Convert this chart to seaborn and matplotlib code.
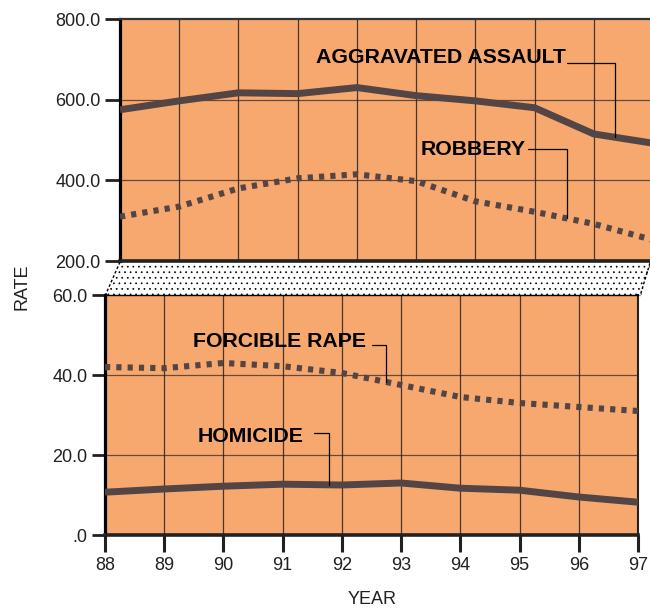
import matplotlib
matplotlib.use("Agg")
import matplotlib.pyplot as plt
import seaborn as sns
import numpy as np
import pandas as pd
from matplotlib.patches import Polygon

# Data (rate per 100,000)
years = [88, 89, 90, 91, 92, 93, 94, 95, 96, 97]
assault = [575, 597, 617, 615, 630, 610, 597, 580, 515, 492]
robbery = [310, 335, 380, 405, 415, 398, 348, 322, 292, 252]
rape = [42.0, 41.7, 43.0, 42.2, 40.5, 37.5, 34.5, 33.0, 32.0, 31.0]
homicide = [10.7, 11.5, 12.2, 12.7, 12.5, 13.0, 11.7, 11.2, 9.5, 8.2]

top_ticks = [200, 400, 600, 800]
top_labels = ["200.0", "400.0", "600.0", "800.0"]
bot_ticks = [0, 20, 40, 60]
bot_labels = [".0", "20.0", "40.0", "60.0"]

sns.set_style("white")
plt.rcParams["font.family"] = ["Liberation Sans", "DejaVu Sans"]
plt.rcParams["hatch.linewidth"] = 0.5

BG = "#F7A86F"
LINE = "#534545"
GRID = "#2b2020"
TXT = "#231f20"

W, H = 650, 611
fig = plt.figure(figsize=(6.5, 6.11), dpi=100)


def rect(l, t, r, b):
    return [l / W, 1 - b / H, (r - l) / W, (b - t) / H]


# overlay axes in pixel coords for the broken-axis band
ax_bg = fig.add_axes([0, 0, 1, 1], zorder=0)
ax_bg.set_xlim(0, W)
ax_bg.set_ylim(H, 0)
ax_bg.axis("off")
band = Polygon([(120, 261), (652, 261), (641, 296), (105, 296)], closed=True,
               facecolor="white", edgecolor="black", linewidth=0, hatch="...")
ax_bg.add_patch(band)
ax_bg.plot([120, 105], [262, 296], color="black", lw=1, ls=(0, (2, 1.5)))
ax_bg.plot([650, 640], [263, 296], color="black", lw=1, ls=(0, (2, 1.5)))

ax_top = fig.add_axes(rect(120, 19, 653, 261), zorder=2)
ax_bot = fig.add_axes(rect(105, 295, 638, 535), zorder=2)

df_top = pd.DataFrame({"year": years, "assault": assault, "robbery": robbery})
df_bot = pd.DataFrame({"year": years, "rape": rape, "homicide": homicide})

sns.lineplot(data=df_top, x="year", y="assault", ax=ax_top, color=LINE, lw=5,
             solid_capstyle="butt", zorder=5)
sns.lineplot(data=df_top, x="year", y="robbery", ax=ax_top, color=LINE, lw=4.4,
             linestyle=(0, (0.85, 1.0)), dash_capstyle="butt", zorder=5)
sns.lineplot(data=df_bot, x="year", y="rape", ax=ax_bot, color=LINE, lw=4.4,
             linestyle=(0, (0.85, 1.0)), dash_capstyle="butt", zorder=5)
sns.lineplot(data=df_bot, x="year", y="homicide", ax=ax_bot, color=LINE, lw=5,
             solid_capstyle="butt", zorder=5)

for ax in (ax_top, ax_bot):
    ax.set_facecolor(BG)
    ax.set_xlim(88, 97)
    ax.set_xticks(years)
    ax.set_xlabel("")
    ax.set_ylabel("")
    for x in years:
        ax.axvline(x, color=GRID, lw=0.9, alpha=0.85, zorder=1)

ax_top.set_ylim(200, 800)
ax_top.set_yticks(top_ticks)
ax_top.set_yticklabels(top_labels)
for v in top_ticks[1:-1]:
    ax_top.axhline(v, color=GRID, lw=0.9, alpha=0.7, zorder=1)
ax_top.tick_params(axis="x", bottom=False, labelbottom=False)
ax_top.tick_params(axis="y", left=True, length=11, width=2, pad=3,
                   labelsize=13, labelcolor=TXT, color=TXT)
ax_top.spines["right"].set_visible(False)
ax_top.spines["left"].set_linewidth(2.3)
ax_top.spines["left"].set_color("black")
ax_top.spines["top"].set_linewidth(1.6)
ax_top.spines["top"].set_color("#333333")
ax_top.spines["bottom"].set_linewidth(2.6)
ax_top.spines["bottom"].set_color("#222222")

ax_bot.set_ylim(0, 60)
ax_bot.set_yticks(bot_ticks)
ax_bot.set_yticklabels(bot_labels)
for v in bot_ticks[1:-1]:
    ax_bot.axhline(v, color=GRID, lw=0.9, alpha=0.7, zorder=1)
ax_bot.tick_params(axis="y", left=True, length=9.5, width=2, pad=3,
                   labelsize=13, labelcolor=TXT, color=TXT)
ax_bot.tick_params(axis="x", bottom=True, length=12, width=2.2, pad=3.5,
                   labelsize=13, labelcolor=TXT, color=TXT)
ax_bot.set_xticklabels([str(y) for y in years])
ax_bot.spines["left"].set_linewidth(2.3)
ax_bot.spines["left"].set_color("black")
ax_bot.spines["bottom"].set_linewidth(2.6)
ax_bot.spines["bottom"].set_color("#222222")
ax_bot.spines["right"].set_linewidth(1.5)
ax_bot.spines["right"].set_color("#222222")
ax_bot.spines["top"].set_linewidth(1.0)
ax_bot.spines["top"].set_color("black")


def label_line(ax, text, tx, ty, x0, x1, yl, xs, ys):
    ax.text(tx, ty, text, fontsize=15.3, fontweight="bold", color="black",
            va="center", ha="left", zorder=6)
    yend = np.interp(x1, xs, ys)
    ax.plot([x0, x1, x1], [yl, yl, yend], color="black", lw=0.9, zorder=6)


label_line(ax_top, "AGGRAVATED ASSAULT", 91.31, 705, 95.55, 96.36, 690, years, assault)
label_line(ax_top, "ROBBERY", 93.07, 477, 94.89, 95.55, 477, years, robbery)
label_line(ax_bot, "FORCIBLE RAPE", 89.49, 48.4, 92.51, 92.75, 47.6, years, rape)
label_line(ax_bot, "HOMICIDE", 89.57, 24.7, 91.53, 91.78, 25.4, years, homicide)

fig.text(22 / W, 1 - 287 / H, "RATE", rotation=90, fontsize=13, color=TXT,
         ha="center", va="center")
fig.text(372 / W, 1 - 600 / H, "YEAR", fontsize=13, color=TXT,
         ha="center", va="center")

fig.savefig("out.png", dpi=100)
